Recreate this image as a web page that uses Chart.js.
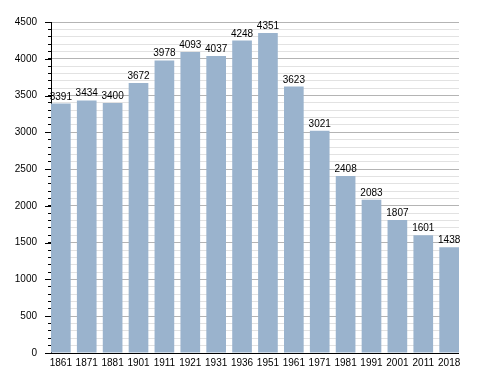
<!DOCTYPE html>
<html>
<head>
<meta charset="utf-8">
<script src="https://cdn.jsdelivr.net/npm/chart.js@4/dist/chart.umd.min.js"></script>
<style>
  html, body { margin: 0; padding: 0; background: #fff; }
  #wrap { width: 488px; height: 373px; }
</style>
</head>
<body>
<div id="wrap"><canvas id="popChart"></canvas></div>
<script>
// census years and population
const years = ["1861", "1871", "1881", "1901", "1911", "1921", "1931", "1936", "1951", "1961", "1971", "1981", "1991", "2001", "2011", "2018"];
const population = [3391, 3434, 3400, 3672, 3978, 4093, 4037, 4248, 4351, 3623, 3021, 2408, 2083, 1807, 1601, 1438];
const yMax = 4500;
const yMajorStep = 500;
const yMinorStep = 100;

const labelFont = "'Liberation Sans', Arial, sans-serif";

// bars touch both ends of the axis: widen the category band by half a gap each side
const barGap = 6.2;
const stretchX = {
  id: "stretchX",
  afterLayout(chart) {
    const s = chart.scales.x;
    s.left -= barGap / 2;
    s.right += barGap / 2;
    s.width += barGap;
    s.configure();
  }
};

// value above each bar + longer ticks at the major steps
const valueLabels = {
  id: "valueLabels",
  afterDatasetsDraw(chart) {
    const ctx = chart.ctx;
    const meta = chart.getDatasetMeta(0);
    ctx.save();
    ctx.font = "10px " + labelFont;
    ctx.fillStyle = "#000";
    ctx.textAlign = "center";
    ctx.textBaseline = "alphabetic";
    meta.data.forEach((bar, i) => {
      ctx.fillText(population[i], bar.x, bar.y - 4);
    });
    const y = chart.scales.y;
    const left = chart.chartArea.left;
    ctx.strokeStyle = "#000";
    ctx.lineWidth = 1;
    ctx.beginPath();
    for (let v = 0; v <= yMax; v += yMajorStep) {
      const py = Math.round(y.getPixelForValue(v)) + 0.5;
      ctx.moveTo(left - 6, py);
      ctx.lineTo(left, py);
    }
    ctx.stroke();
    ctx.restore();
  }
};

new Chart("popChart", {
  type: "bar",
  data: {
    labels: years,
    datasets: [{
      data: population,
      backgroundColor: "#9ab3cd",
      categoryPercentage: 0.76,
      barPercentage: 1
    }]
  },
  options: {
    responsive: true,
    maintainAspectRatio: false,
    animation: false,
    layout: { padding: { top: 22, right: 29, left: 0, bottom: 0 } },
    plugins: {
      legend: { display: false },
      tooltip: { enabled: false }
    },
    scales: {
      x: {
        grid: { display: false, drawTicks: false },
        border: { display: false },
        ticks: {
          color: "#000",
          padding: 4,
          maxRotation: 0,
          autoSkip: false,
          font: { family: labelFont, size: 10 }
        }
      },
      y: {
        min: 0,
        max: yMax,
        border: { color: "#000", width: 1 },
        afterFit(scale) { scale.width = 51; },
        grid: {
          tickLength: 3,
          color: c => {
            if (!c.tick) return "#e2e2e2";
            if (c.tick.value === 0) return "#000";
            return c.tick.value % yMajorStep === 0 ? "#b4b4b4" : "#e2e2e2";
          },
          tickColor: "#000"
        },
        ticks: {
          stepSize: yMinorStep,
          autoSkip: false,
          color: "#000",
          padding: 11,
          font: { family: labelFont, size: 10 },
          callback: v => (v % yMajorStep === 0 ? v : "")
        }
      }
    }
  },
  plugins: [stretchX, valueLabels]
});
</script>
</body>
</html>
